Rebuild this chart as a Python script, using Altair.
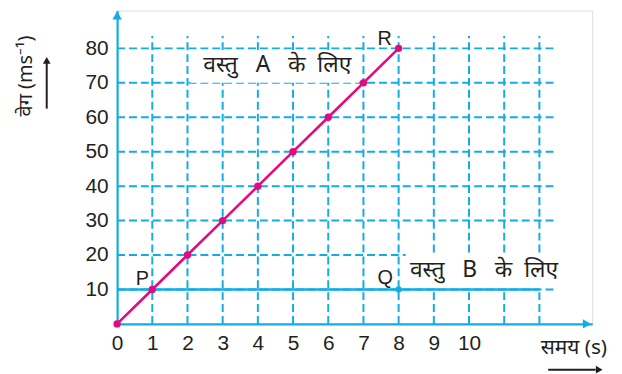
import altair as alt
import pandas as pd

# Data
time_a = [0, 1, 2, 3, 4, 5, 6, 7, 8]
vel_a = [0, 10, 20, 30, 40, 50, 60, 70, 80]
time_b = [0, 12]
vel_b = [10, 10]
q_time = [8]
q_vel = [10]
grid_x = [1, 2, 3, 4, 5, 6, 7, 8, 9, 10, 11, 12]
grid_y = [10, 20, 30, 40, 50, 60, 70, 80]
x_ticks = [0, 1, 2, 3, 4, 5, 6, 7, 8, 9, 10]
y_ticks = [10, 20, 30, 40, 50, 60, 70, 80]
point_names = ["P", "Q", "R"]
label_a = "वस्तु\u00a0\u00a0\u00a0A\u00a0\u00a0\u00a0के\u00a0\u00a0लिए"
label_b = "वस्तु\u00a0\u00a0\u00a0B\u00a0\u00a0\u00a0के\u00a0\u00a0लिए"
x_title = "समय (s)"
y_title = "वेग (ms⁻¹)"

BLUE = "#12ACE6"
PINK = "#E5097F"
INK = "#231F20"
FONT = "Liberation Sans"
DFONT = "Noto Sans, Liberation Sans, sans-serif"

xs = alt.Scale(domain=[0, 13.5], nice=False, zero=False)
ys = alt.Scale(domain=[0, 91], nice=False, zero=False)

df_a = pd.DataFrame({"t": time_a, "v": vel_a})
df_b = pd.DataFrame({"t": time_b, "v": vel_b})
df_q = pd.DataFrame({"t": q_time, "v": q_vel})
df_gx = pd.DataFrame({"t": grid_x})
df_gy = pd.DataFrame({"v": grid_y})

base = alt.Chart(df_a)

# axes-bearing invisible layer
axes = base.mark_point(opacity=0).encode(
    x=alt.X("t:Q", scale=xs, axis=alt.Axis(
        values=x_ticks, title=None, grid=False, ticks=False,
        domainColor=BLUE, domainWidth=2.2, labelFont=FONT,
        labelFontSize=21, labelColor=INK, labelPadding=9,
        labelFlush=False)),
    y=alt.Y("v:Q", scale=ys, axis=alt.Axis(
        values=y_ticks, title=None, grid=False, ticks=False,
        domainColor=BLUE, domainWidth=2.2, labelFont=FONT,
        labelFontSize=21, labelColor=INK, labelPadding=9,
        labelFlush=False)),
)

vgrid = alt.Chart(df_gx).mark_rule(color=BLUE, strokeWidth=2, strokeDash=[8, 4]).encode(
    x=alt.X("t:Q", scale=xs), y=alt.datum(0), y2=alt.datum(83.6))
hgrid = alt.Chart(df_gy).mark_rule(color=BLUE, strokeWidth=2, strokeDash=[8, 4]).encode(
    y=alt.Y("v:Q", scale=ys), x=alt.datum(0), x2=alt.datum(12.5))

box_a = alt.Chart(df_q).mark_rect(color="white").encode(
    x=alt.datum(2.08), x2=alt.datum(6.87), y=alt.datum(70.0), y2=alt.datum(79.5))
box_b = alt.Chart(df_q).mark_rect(color="white").encode(
    x=alt.datum(8.2), x2=alt.datum(12.6), y=alt.datum(10.45), y2=alt.datum(20.45))

line_b = alt.Chart(df_b).mark_line(color=BLUE, strokeWidth=2.6).encode(
    x=alt.X("t:Q", scale=xs), y=alt.Y("v:Q", scale=ys))
pt_q = alt.Chart(df_q).mark_circle(color=BLUE, size=40, opacity=1).encode(
    x=alt.X("t:Q", scale=xs), y=alt.Y("v:Q", scale=ys))

line_a = base.mark_line(color=PINK, strokeWidth=2.6).encode(
    x=alt.X("t:Q", scale=xs), y=alt.Y("v:Q", scale=ys))
pts_a = base.mark_circle(color=PINK, size=55, opacity=1).encode(
    x=alt.X("t:Q", scale=xs), y=alt.Y("v:Q", scale=ys))

def txt(s, x, y, size=20, font=FONT, **kw):
    return alt.Chart(df_q).mark_text(text=s, font=font, fontSize=size, color=INK, **kw).encode(
        x=alt.datum(x), y=alt.datum(y))

lab_p = txt(point_names[0], 0.72, 12.9)
lab_q = txt(point_names[1], 7.62, 13.2)
lab_r = txt(point_names[2], 7.6, 82.6)
lab_a = txt(label_a, 2.45, 75.3, size=23, font=DFONT, align="left")
lab_b = txt(label_b, 8.32, 15.6, size=23, font=DFONT, align="left")

xt = txt(x_title, 12.98, -7.0, size=21, font=DFONT)
yt = txt(y_title, -2.6, 72, size=20, font=DFONT, angle=270)

# axis arrowheads and title arrows
arr_y = alt.Chart(df_q).mark_point(shape="triangle-up", filled=True, color=BLUE, size=90, opacity=1).encode(
    x=alt.datum(0), y=alt.datum(89.6))
arr_x = alt.Chart(df_q).mark_point(shape="triangle-right", filled=True, color=BLUE, size=90, opacity=1).encode(
    x=alt.datum(13.35), y=alt.datum(0))
ya_line = alt.Chart(df_q).mark_rule(color=INK, strokeWidth=2).encode(
    x=alt.datum(-2.0), y=alt.datum(62.5), y2=alt.datum(76))
ya_head = alt.Chart(df_q).mark_point(shape="triangle-up", filled=True, color=INK, size=60, opacity=1).encode(
    x=alt.datum(-2.0), y=alt.datum(76.5))
xa_line = alt.Chart(df_q).mark_rule(color=INK, strokeWidth=2).encode(
    x=alt.datum(12.25), x2=alt.datum(13.6), y=alt.datum(-13.3))
xa_head = alt.Chart(df_q).mark_point(shape="triangle-right", filled=True, color=INK, size=60, opacity=1).encode(
    x=alt.datum(13.7), y=alt.datum(-13.3))

chart = alt.layer(
    axes, vgrid, hgrid, box_a, box_b, line_b, pt_q, line_a, pts_a,
    lab_p, lab_q, lab_r, lab_a, lab_b, xt, yt,
    arr_y, arr_x, ya_line, ya_head, xa_line, xa_head,
).properties(
    width=479, height=316,
    autosize=alt.AutoSizeParams(type="none"),
    padding={"left": 110, "top": 1, "right": 22, "bottom": 49},
).configure_view(stroke=None).configure(background="white")

chart.save("out.html", embed_options={"renderer": "svg", "actions": False})
